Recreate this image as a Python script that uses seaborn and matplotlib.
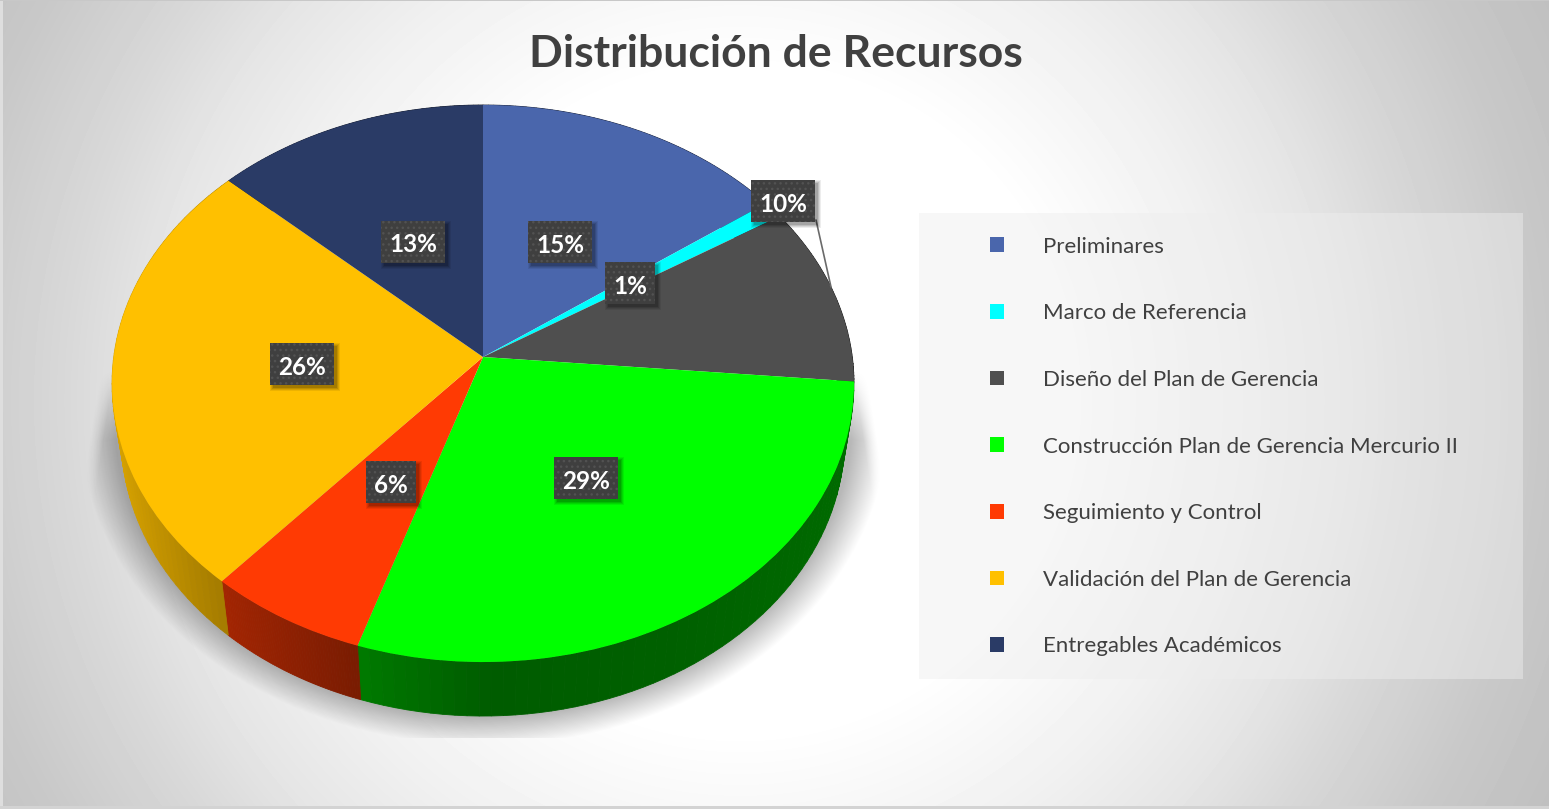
import numpy as np
import seaborn as sns
import matplotlib
matplotlib.use("Agg")
import matplotlib.pyplot as plt
from matplotlib.patches import Rectangle
from matplotlib.transforms import Transform

# ==========================================
# 1. DATA
# ==========================================

categories = [
    "Preliminares",
    "Marco de Referencia",
    "Diseño del Plan de Gerencia",
    "Construcción Plan de Gerencia Mercurio II",
    "Seguimiento y Control",
    "Validación del Plan de Gerencia",
    "Entregables Académicos",
]
values = [15.0, 1.0, 10.4, 28.6, 6.4, 25.5, 13.1]
percent_labels = ["15%", "1%", "10%", "29%", "6%", "26%", "13%"]
slice_colors = ["#4a66ac", "#00ffff", "#4f4f4f", "#00ff00", "#ff3a03", "#ffc000", "#2a3b66"]

# label box centres, in pixels
label_x = [560.5, 630, 783, 586.5, 391, 302, 413.5]
label_y = [242, 283, 201, 478, 482, 364, 241.5]

title_text = "Distribución de Recursos"

# ==========================================
# 2. PIE GEOMETRY (tilted disc seen in perspective)
# ==========================================

W, H = 1549, 809
APEX_X, APEX_Y = 483.0, 357.0
PERSP = 0.0952
SCALE_X = 369.3
SCALE_Y = 276.0
DEPTH = 54.0
BOTTOM_SHRINK = 0.975


def project(u, v):
    w = 1 + PERSP * v
    return APEX_X + SCALE_X * u / w, APEX_Y - SCALE_Y * v / w


class TiltTransform(Transform):
    input_dims = 2
    output_dims = 2
    has_inverse = False
    is_separable = False

    def transform_non_affine(self, xy):
        xy = np.asarray(xy, dtype=float)
        px, py = project(xy[:, 0], xy[:, 1])
        return np.column_stack([px, py])

    def transform_path_non_affine(self, path):
        ipath = path.interpolated(1)
        return type(path)(self.transform_non_affine(ipath.vertices), ipath.codes)


sns.set_theme(style="white")
plt.rcParams["font.family"] = ["Lato", "DejaVu Sans"]

fig = plt.figure(figsize=(W / 100, H / 100), dpi=100)
ax = fig.add_axes([0, 0, 1, 1])

# ==========================================
# 3. BACKGROUND AND SOFT SHADOW
# ==========================================

yy, xx = np.mgrid[0:H, 0:W]
rad = np.sqrt((xx - 740) ** 2 + (yy - 400) ** 2)
bg = np.interp(rad, [0, 330, 494, 594, 677, 800, 900], [255, 255, 240, 229, 216, 200, 192])
bg[:, :3] = 222
bg[-3:, :] = 212
bg[:1, :] = 200
ax.imshow(bg, cmap="gray", vmin=0, vmax=255, extent=(0, W, H, 0), aspect="auto", zorder=0)

d = np.sqrt(((xx - APEX_X) / 405.0) ** 2 + ((yy - 420.0) / 325.0) ** 2)
sh_alpha = np.clip((1.0 - d) / 0.09, 0, 1) * 0.28
sh_alpha *= np.clip((yy - 370) / 70.0, 0, 1)
# the shadow narrows to a cone towards the top of the pie
cone = 388 + (yy - 400) * 20 / 130.0
sh_alpha *= np.clip((cone - np.abs(xx - APEX_X)) / 14.0, 0, 1)
sh_alpha[yy > 737] = 0
shadow = np.zeros((H, W, 4))
shadow[..., 3] = sh_alpha
ax.imshow(shadow, extent=(0, W, H, 0), aspect="auto", zorder=1)

# ==========================================
# 4. PIE AND SIDE WALL
# ==========================================

palette = sns.color_palette(slice_colors)
wedges, _ = ax.pie(
    values,
    colors=palette,
    startangle=90,
    counterclock=False,
    radius=1,
    center=(0, 0),
    frame=False,
    wedgeprops=dict(linewidth=0),
)

tilt = TiltTransform()
for wedge, col in zip(wedges, palette):
    wedge.set_transform(tilt + ax.transData)
    wedge.set_zorder(3)

    # side wall, split in thin strips to get the shading across the rim
    angles = np.linspace(wedge.theta1, wedge.theta2, 60)
    u = np.cos(np.radians(angles))
    v = np.sin(np.radians(angles))
    px, py = project(u, v)
    bx = APEX_X + BOTTOM_SHRINK * (px - APEX_X)
    by = py + DEPTH
    shade = np.interp(u, [-1.0, -0.66, -0.3, 0.0, 0.5, 1.0], [0.86, 0.64, 0.47, 0.36, 0.38, 0.42])
    for i in range(len(angles) - 1):
        c = tuple(np.array(col) * shade[i])
        ax.fill(
            [px[i], px[i + 1], bx[i + 1], bx[i]],
            [py[i], py[i + 1], by[i + 1], by[i]],
            color=c,
            lw=0.6,
            zorder=2,
        )

# leader line of the 10% label
ax.plot([816, 831], [220, 287], color="#6a6a6a", lw=1.2, zorder=3.5)

# ==========================================
# 5. DATA LABELS
# ==========================================

plt.rcParams["hatch.linewidth"] = 1.0
for txt, lx, ly in zip(percent_labels, label_x, label_y):
    bw = 50 if len(txt) == 2 else 64
    bh = 42
    for grow, alpha in zip([6, 4, 2, 0], [0.07, 0.09, 0.11, 0.14]):
        ax.add_patch(Rectangle(
            (lx - bw / 2 + 3 - grow / 2, ly - bh / 2 + 3 - grow / 2),
            bw + grow, bh + grow,
            facecolor="black", alpha=alpha, lw=0, zorder=4,
        ))
    ax.add_patch(Rectangle(
        (lx - bw / 2, ly - bh / 2), bw, bh,
        facecolor="#3f3f3f", edgecolor="#525252", hatch="...", lw=0, zorder=5,
    ))
    ax.text(lx, ly + 3, txt, color="white", fontsize=17.5, fontweight="bold",
            ha="center", va="center", zorder=6)

# ==========================================
# 6. TITLE AND LEGEND
# ==========================================

ax.text(776, 54, title_text, color="#404040", fontsize=32, fontweight="bold",
        ha="center", va="center", zorder=6)

ax.add_patch(Rectangle((919, 213), 604, 466, facecolor="#eeeeee", alpha=0.47, lw=0, zorder=1.5))

leg = ax.legend(
    wedges,
    categories,
    loc="center left",
    bbox_to_anchor=(990, 446.5),
    bbox_transform=ax.transData,
    frameon=False,
    fontsize=16,
    labelcolor="#404040",
    handlelength=0.63,
    handleheight=0.63,
    handletextpad=1.76,
    labelspacing=2.1,
    borderpad=0,
    borderaxespad=0,
)
leg.set_zorder(6)

ax.set_aspect("auto")
ax.set_xlim(0, W)
ax.set_ylim(H, 0)
ax.axis("off")

fig.savefig("out.png", dpi=100)
plt.close(fig)
